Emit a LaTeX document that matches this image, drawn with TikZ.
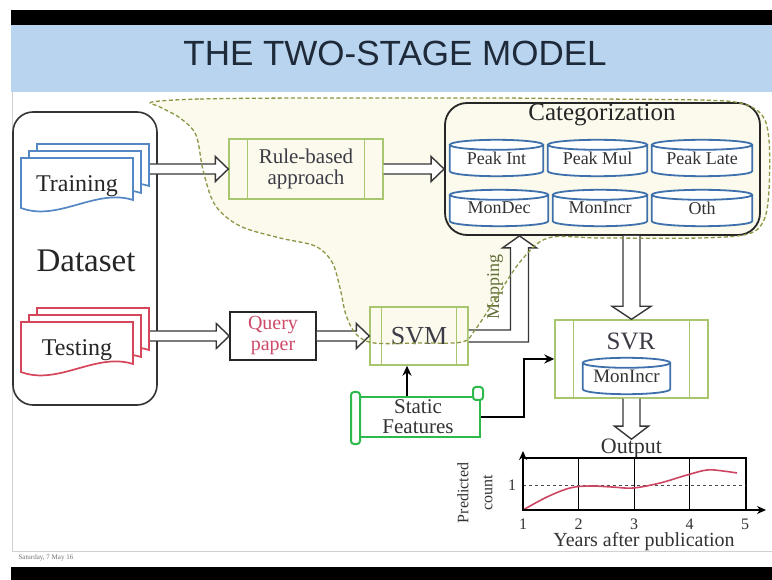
\documentclass[tikz,border=0pt]{standalone}
\usepackage{fontspec}
\setmainfont{Liberation Serif}
\newfontfamily\titlefont{Liberation Sans}
\usetikzlibrary{calc,arrows.meta,positioning}

\definecolor{bandblue}{RGB}{185,212,238}
\definecolor{titleink}{RGB}{30,42,58}
\definecolor{docblue}{RGB}{84,135,196}
\definecolor{docred}{RGB}{214,70,90}
\definecolor{procgreen}{RGB}{168,198,112}
\definecolor{drumblue}{RGB}{62,112,172}
\definecolor{scrollgreen}{RGB}{45,185,75}
\definecolor{regionfill}{RGB}{252,250,237}
\definecolor{regionline}{RGB}{140,150,70}
\definecolor{querytext}{RGB}{205,75,105}
\definecolor{curvered}{RGB}{205,70,100}
\definecolor{arrowgray}{RGB}{55,55,55}
\definecolor{boxtext}{RGB}{60,60,70}
\definecolor{mapolive}{RGB}{95,110,55}

% block arrow with an open back: from #1 to #2, half shaft #3, half head #4
\newcommand{\hollowarrow}[4]{%
  \coordinate (ha_base) at ($(#2)!13pt!(#1)$);
  \draw[hollow] ($(#1)!#3!90:(#2)$) -- ($(ha_base)!#3!-90:(#1)$)
    -- ($(ha_base)!#4!-90:(#1)$) -- (#2)
    -- ($(ha_base)!#4!90:(#1)$) -- ($(ha_base)!#3!90:(#1)$)
    -- ($(#1)!#3!-90:(#2)$);
}
% cylinder drawn round a text node
\newcommand{\drum}[1]{%
  \draw[drum] let \p1=(#1.south west), \p2=(#1.south east), \p3=(#1.north),
      \n1={(\x2-\x1)/2} in
    (#1.north west) -- (\p1)
    arc[start angle=180, end angle=360, x radius=\n1, y radius=5pt]
    -- (#1.north east)
    (\p3) ellipse[x radius=\n1, y radius=5pt];
}
% inner bars of a process box
\newcommand{\procbars}[2]{%
  \draw[procline] ([xshift=#2]#1.north west) -- ([xshift=#2]#1.south west)
    ([xshift=-#2]#1.north east) -- ([xshift=-#2]#1.south east);
}
% three stacked pages, front page top left at (#1,#2)
\newcommand{\docstack}[3]{%
  \foreach \k in {2,1,0} {
    \pgfmathsetmacro{\px}{#1+8*\k}
    \pgfmathsetmacro{\py}{#2-7*\k}
    \draw[docpage, draw=#3] (\px,\py) -- ({\px+112},\py) -- ({\px+112},{\py+42})
      .. controls ({\px+75},{\py+30}) and ({\px+37},{\py+64}) .. (\px,{\py+50}) -- cycle;
  }
}

\begin{document}
\begin{tikzpicture}[x=1pt, y=-1pt,
  hollow/.style={draw=arrowgray, line width=1.4pt, fill=white, line join=miter},
  procbox/.style={draw=procgreen, line width=1.4pt, inner sep=0pt, align=center, text=boxtext},
  procline/.style={draw=procgreen, line width=1.4pt},
  drum/.style={draw=drumblue, line width=1.8pt, fill=white},
  drumtext/.style={inner sep=0pt, minimum height=26pt, font=\fontsize{18}{20}\selectfont, text=black!80},
  docpage/.style={line width=1.7pt, fill=white},
  doclbl/.style={font=\fontsize{24}{26}\selectfont, text=black!85},
  feed/.style={draw=black, line width=1.8pt, -{Stealth[length=10pt, width=9pt]}},
  scroll/.style={draw=scrollgreen, line width=2pt, fill=white, rounded corners=3pt},
  region/.style={draw=regionline, line width=1.3pt, dash pattern=on 4pt off 2.5pt},
  axis/.style={line width=1.5pt, -{Stealth[length=9pt, width=8pt]}},
  ticklbl/.style={font=\fontsize{16}{18}\selectfont, text=black!80},
]
\useasboundingbox (0,0) rectangle (772,580);
\fill[white] (0,0) rectangle (772,580);

% slide frame
\fill[black] (11,10) rectangle (772,25);
\fill[bandblue] (11,25) rectangle (772,92);
\node[font=\titlefont\fontsize{35}{40}\selectfont, text=titleink] (title) at (395,53) {THE TWO-STAGE MODEL};
\draw[black!18, line width=1pt] (12,92) -- (12,551) -- (772,551);
\fill[black] (11,567) rectangle (772,580);
\node[anchor=west, font=\fontsize{7}{8}\selectfont, text=black!55] (date) at (15,558) {Saturday, 7 May 16};

% training stage region
\fill[regionfill] plot[smooth cycle, tension=0.55] coordinates {
  (152,102) (200,99) (300,98) (400,98) (500,98) (600,99) (700,100) (740,103)
  (762,115) (769,140) (769,190) (764,220) (748,234) (700,238) (600,238) (548,238)
  (520,262) (495,300) (475,330) (462,342) (420,343) (374,343) (356,334) (346,315)
  (340,288) (332,262) (315,246) (280,238) (240,226) (215,205) (203,170) (196,135)
  (180,118) (160,107)};

% dataset
\node[draw=black!80, line width=1.6pt, fill=white, rounded corners=20pt,
  minimum width=144pt, minimum height=293pt] (dataset_box) at (85,258.5) {};
\node[font=\fontsize{33}{36}\selectfont, text=black!85] (dataset_lbl) at (86,261) {Dataset};
\docstack{21}{158}{docblue}
\node[doclbl] (train_lbl) at (77,186) {Training};
\docstack{21}{322}{docred}
\node[doclbl] (test_lbl) at (77,350) {Testing};
\coordinate (train_out) at (150,169);
\coordinate (test_out) at (150,336);

% rule based stage
\node[procbox, minimum width=154pt, minimum height=60pt, font=\fontsize{21}{21}\selectfont]
  (rule_box) at (306,169) {Rule-based\\approach};
\procbars{rule_box}{19pt}

% categories
\node[draw=black!85, line width=1.8pt, rounded corners=22pt,
  minimum width=315pt, minimum height=132pt] (cat_box) at (602.5,169) {};
\node[font=\fontsize{25}{27}\selectfont, text=black!85] (cat_lbl) at (602,115) {Categorization};
\node[drumtext, minimum width=93pt] (peak_int) at (496.5,158) {Peak Int};
\node[drumtext, minimum width=99pt] (peak_mul) at (597.5,158) {Peak Mul};
\node[drumtext, minimum width=100pt] (peak_late) at (702,158) {Peak Late};
\node[drumtext, minimum width=98pt] (mon_dec) at (499,208) {MonDec};
\node[drumtext, minimum width=94pt] (mon_incr) at (600,208) {MonIncr};
\node[drumtext, minimum width=100pt] (oth) at (702,208) {Oth};
\foreach \d in {peak_int,peak_mul,peak_late,mon_dec,mon_incr,oth} {\drum{\d}}
\foreach \d/\t in {peak_int/Peak Int,peak_mul/Peak Mul,peak_late/Peak Late,
  mon_dec/MonDec,mon_incr/MonIncr,oth/Oth} {
  \node[drumtext] at (\d) {\t};
}

% testing stage
\node[draw=black!85, line width=1.5pt, minimum width=86pt, minimum height=48pt, align=center,
  text=querytext, font=\fontsize{20}{21}\selectfont, inner sep=0pt] (query_box) at (273,336) {Query\\paper};
\node[procbox, minimum width=98pt, minimum height=58pt, font=\fontsize{26}{28}\selectfont]
  (svm_box) at (419,336) {SVM};
\procbars{svm_box}{12pt}
\node[procbox, minimum width=153pt, minimum height=78pt] (svr_box) at (631.5,359) {};
\procbars{svr_box}{19pt}
\node[font=\fontsize{25}{27}\selectfont, text=boxtext] (svr_lbl) at (631,341) {SVR};
\node[drumtext, minimum width=87pt, font=\fontsize{19}{20}\selectfont] (svr_drum) at (626.5,376) {MonIncr};
\drum{svr_drum}
\node[drumtext, font=\fontsize{19}{20}\selectfont] at (svr_drum) {MonIncr};

% static features scroll
\node[draw=scrollgreen, line width=2pt, fill=white, minimum width=124pt, minimum height=40pt,
  align=center, font=\fontsize{21}{20}\selectfont, inner sep=0pt, text=black!80]
  (static_box) at (418,417) {Static\\Features};
\draw[scroll] ([shift={(-4,-4)}]static_box.north west) rectangle ([shift={(5,6)}]static_box.south west);
\draw[scroll] ([shift={(-8,-9)}]static_box.north east) rectangle ([shift={(2,4)}]static_box.north east);

% connectors
\hollowarrow{train_out}{rule_box.west}{5pt}{12.5pt}
\hollowarrow{rule_box.east}{cat_box.west}{5pt}{12.5pt}
\hollowarrow{test_out}{query_box.west}{5pt}{12.5pt}
\hollowarrow{query_box.east}{svm_box.west}{5pt}{12.5pt}
\coordinate (cat_out) at (cat_box.south -| svr_box.north);
\hollowarrow{cat_out}{svr_box.north}{8.5pt}{19.5pt}
\node[font=\fontsize{22}{24}\selectfont, text=black!80, inner sep=0pt] (out_lbl) at (631.5,449) {Output};
\hollowarrow{svr_box.south}{out_lbl.north}{8.5pt}{17pt}
\coordinate (map_tip) at ($(cat_box.south)+(-83,0)$);
\draw[hollow] ($(svm_box.east)+(0,-6)$) -| ($(map_tip)+(-9,12)$) -- ++(-8,0) -- (map_tip)
  -- ($(map_tip)+(17,12)$) -- ++(-8,0) |- ($(svm_box.east)+(0,6)$);
\node[rotate=90, font=\fontsize{18}{20}\selectfont, text=mapolive] (map_lbl) at (495,287) {Mapping};
\coordinate (feat_up) at ([xshift=-11pt]static_box.north);
\draw[feed] (feat_up) -- (feat_up |- svm_box.south);
\draw[feed] (static_box.east) -- ++(43,0) |- (svr_box.west);

% output plot
\draw[line width=1.3pt] (523,458) rectangle (746,510);
\foreach \gx in {578.5,634,689.5} \draw[line width=0.9pt] (\gx,458) -- (\gx,510);
\draw[dashed, line width=0.8pt, draw=black!70] (523,485) -- (746,485);
\draw[curvered, line width=1.6pt] plot[smooth, tension=0.6] coordinates {
  (523,510) (547,497) (570,488) (590,486) (612,487) (633,488) (660,483)
  (687,475) (707,470) (723,471) (737,473)};
\draw[axis] (523,510) -- (523,451);
\draw[axis] (523,510) -- (766,510);
\foreach \k in {1,...,5} \node[ticklbl] at ({523+55.5*(\k-1)},524) {\k};
\node[ticklbl] (y_one) at (512,485) {1};
\node[rotate=90, align=center, font=\fontsize{16}{24}\selectfont, text=black!80] (y_lbl) at (475,493) {Predicted\\count};
\node[font=\fontsize{20}{22}\selectfont, text=black!80] (x_lbl) at (644,542) {Years after publication};

% region outline on top
\draw[region] plot[smooth cycle, tension=0.55] coordinates {
  (152,102) (200,99) (300,98) (400,98) (500,98) (600,99) (700,100) (740,103)
  (762,115) (769,140) (769,190) (764,220) (748,234) (700,238) (600,238) (548,238)
  (520,262) (495,300) (475,330) (462,342) (420,343) (374,343) (356,334) (346,315)
  (340,288) (332,262) (315,246) (280,238) (240,226) (215,205) (203,170) (196,135)
  (180,118) (160,107)};
\end{tikzpicture}
\end{document}
